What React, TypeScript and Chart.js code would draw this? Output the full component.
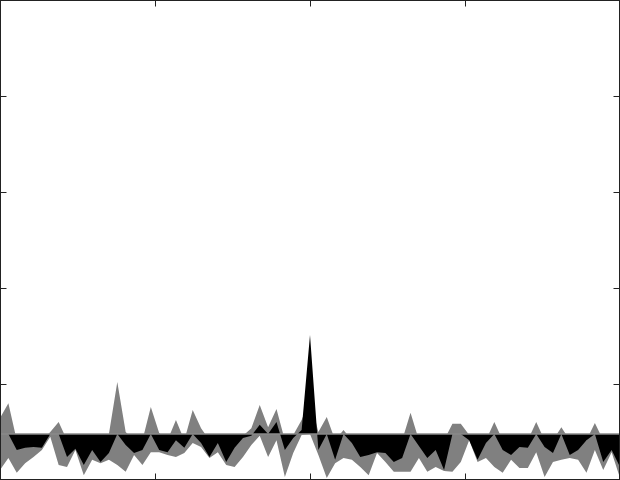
import React, { useEffect, useRef } from "react";
import { Chart, registerables } from "chart.js";

Chart.register(...registerables);

// Values in chart units (y axis 0..100, ticks every 20)
const BASELINE = 9.6;

const GRAY_UPPER = [
  12.9, 16.0, 8.3, 8.3, 8.3, 8.3, 10.0, 12.1, 8.3, 8.3,
  8.3, 8.3, 8.3, 9.6, 20.4, 10.0, 8.3, 8.3, 15.2, 9.8,
  8.3, 12.5, 8.3, 14.6, 10.8, 8.3, 8.3, 8.3, 8.3, 9.2,
  10.8, 15.6, 11.0, 14.8, 8.3, 9.4, 12.5, 16.7, 10.0, 13.1,
  8.3, 10.4, 8.3, 8.3, 8.3, 8.3, 8.3, 8.3, 8.3, 14.0,
  8.3, 8.3, 8.3, 8.3, 11.7, 11.7, 9.4, 8.3, 8.3, 12.1,
  8.3, 8.3, 8.3, 8.3, 12.1, 8.3, 8.3, 11.0, 8.3, 8.3,
  8.3, 11.9, 8.3, 8.3, 8.3,
];

const GRAY_LOWER = [
  2.1, 4.6, 1.5, 3.5, 4.8, 6.25, 9.0, 3.1, 2.7, 6.25,
  1.0, 4.2, 3.5, 4.2, 3.1, 1.7, 5.2, 3.1, 5.8, 5.8,
  5.2, 4.8, 5.6, 7.7, 6.9, 4.6, 5.8, 3.1, 2.7, 4.8,
  7.3, 9.2, 4.8, 8.3, 0.6, 5.6, 9.4, 9.6, 5.2, 0.4,
  3.5, 4.6, 4.2, 2.7, 1.0, 5.6, 3.75, 1.7, 1.7, 1.7,
  4.6, 1.7, 2.7, 1.9, 1.7, 3.75, 8.3, 3.75, 4.6, 2.7,
  1.5, 4.2, 2.5, 2.5, 5.8, 0.6, 3.75, 4.2, 4.6, 4.2,
  1.5, 6.25, 2.1, 5.8, 0.4,
];

const BLACK = [
  9.6, 9.6, 6.25, 6.7, 6.9, 6.7, 9.6, 9.6, 4.8, 6.5,
  3.1, 6.25, 3.75, 5.6, 9.6, 7.3, 5.6, 6.25, 9.6, 6.25,
  5.8, 8.3, 6.7, 9.6, 7.7, 4.8, 7.7, 3.75, 6.7, 8.75,
  9.2, 11.5, 9.6, 12.1, 6.25, 8.75, 10.4, 30.2, 6.25, 9.6,
  4.2, 9.6, 7.7, 4.8, 5.2, 5.8, 5.6, 3.75, 4.6, 9.6,
  7.1, 4.6, 6.25, 2.1, 9.6, 9.6, 8.3, 4.2, 7.7, 9.6,
  6.25, 5.2, 6.9, 6.7, 9.6, 6.9, 5.6, 9.6, 5.2, 6.25,
  8.3, 9.6, 3.75, 6.25, 2.7,
];

const Y_TICKS = [20, 40, 60, 80];
const X_TICK_FRACTIONS = [0.25, 0.5, 0.75];

const framePlugin = {
  id: "frameTicks",
  afterDraw(chart: any) {
    const { ctx, chartArea, scales } = chart;
    const xs = scales.x;
    const ys = scales.y;
    ctx.save();
    ctx.strokeStyle = "#222222";
    ctx.lineWidth = 1;
    const L = Math.round(chartArea.left) + 0.5;
    const R = Math.round(chartArea.right) - 0.5;
    const T = Math.round(chartArea.top) + 0.5;
    const B = Math.round(chartArea.bottom) - 0.5;
    ctx.strokeRect(L, T, R - L, B - T);
    const len = 6;
    ctx.beginPath();
    X_TICK_FRACTIONS.forEach((f) => {
      const v = xs.min + (xs.max - xs.min) * f;
      const px = Math.round(xs.getPixelForValue(v)) + 0.5;
      ctx.moveTo(px, T);
      ctx.lineTo(px, T + len);
      ctx.moveTo(px, B);
      ctx.lineTo(px, B - len);
    });
    Y_TICKS.forEach((v) => {
      const py = Math.round(ys.getPixelForValue(v)) + 0.5;
      ctx.moveTo(L, py);
      ctx.lineTo(L + len, py);
      ctx.moveTo(R, py);
      ctx.lineTo(R - len, py);
    });
    ctx.stroke();
    ctx.restore();
  },
};

export default function App() {
  const ref = useRef<HTMLCanvasElement | null>(null);

  useEffect(() => {
    document.body.style.margin = "0";
    const canvas = ref.current;
    if (!canvas) return;
    const toPts = (arr: number[]) => arr.map((y, i) => ({ x: i, y }));
    const chart = new Chart(canvas, {
      type: "line",
      data: {
        datasets: [
          {
            label: "baseline",
            data: toPts(GRAY_UPPER.map(() => BASELINE)),
            borderColor: "#8a8a8a",
            borderWidth: 1.5,
            pointRadius: 0,
            fill: false,
            order: 0,
          },
          {
            label: "black",
            data: toPts(BLACK),
            borderColor: "rgba(0,0,0,0)",
            borderWidth: 0,
            backgroundColor: "#000000",
            pointRadius: 0,
            fill: { value: BASELINE },
            order: 1,
          },
          {
            label: "grayUpper",
            data: toPts(GRAY_UPPER),
            borderColor: "rgba(0,0,0,0)",
            borderWidth: 0,
            backgroundColor: "#808080",
            pointRadius: 0,
            fill: "+1",
            order: 2,
          },
          {
            label: "grayLower",
            data: toPts(GRAY_LOWER),
            borderColor: "rgba(0,0,0,0)",
            borderWidth: 0,
            pointRadius: 0,
            fill: false,
            order: 3,
          },
        ],
      },
      options: {
        responsive: false,
        animation: false,
        devicePixelRatio: 1,
        layout: { padding: 0 },
        elements: { line: { tension: 0 } },
        plugins: {
          legend: { display: false },
          tooltip: { enabled: false },
        },
        scales: {
          x: { type: "linear", min: 0, max: GRAY_UPPER.length - 1, display: false },
          y: { type: "linear", min: 0, max: 100, display: false },
        },
      },
      plugins: [framePlugin],
    });
    return () => chart.destroy();
  }, []);

  return (
    <div style={{ width: 620, height: 480 }}>
      <canvas ref={ref} width={620} height={480} />
    </div>
  );
}
